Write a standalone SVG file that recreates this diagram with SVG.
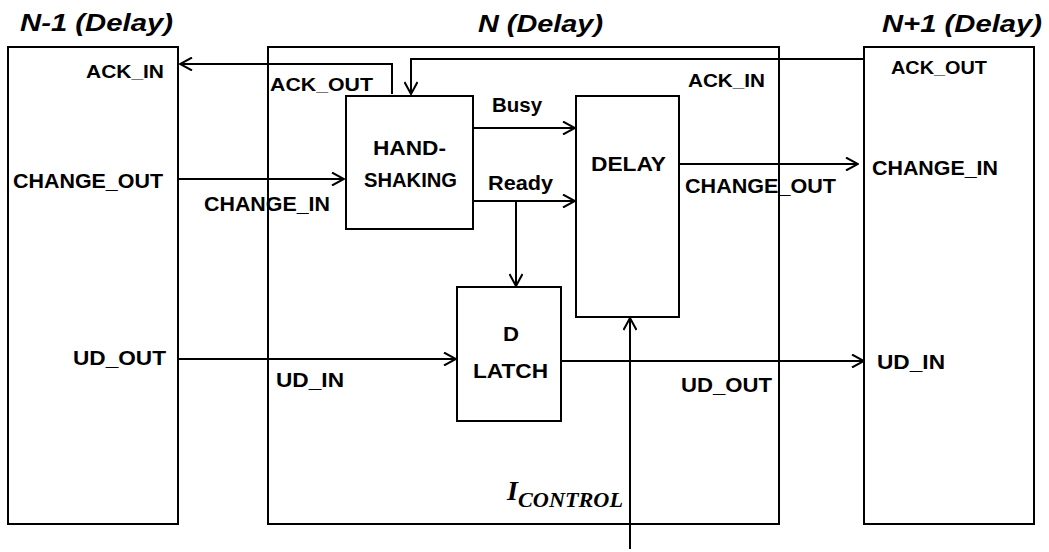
<svg xmlns="http://www.w3.org/2000/svg" width="1049" height="552" viewBox="0 0 1049 552">
<style>
.box{fill:none;stroke:#000;stroke-width:2}
.ln{fill:none;stroke:#000;stroke-width:2}
.arr{marker-end:url(#ah)}
.t{font-family:"Liberation Sans",Arial,sans-serif;font-weight:bold;font-size:20px;fill:#000}
.ttl{font-family:"Liberation Sans",Arial,sans-serif;font-weight:bold;font-style:italic;font-size:23px;fill:#000}
.m{font-family:"Liberation Serif","Times New Roman",serif;font-weight:bold;font-style:italic;fill:#000}
</style>
<defs>
<marker id="ah" markerUnits="userSpaceOnUse" markerWidth="14" markerHeight="14" viewBox="0 0 14 14" refX="13" refY="7" orient="auto">
<path d="M1,0.5 L13,7 L1,13.5" fill="none" stroke="#000" stroke-width="2"/>
</marker>
</defs>
<rect x="0" y="0" width="1049" height="552" fill="#fff"/>

<g id="node-n-minus-1">
<rect class="box" x="8" y="47" width="170" height="477"/>
<text class="ttl" x="20" y="31" textLength="153" lengthAdjust="spacingAndGlyphs">N-1 (Delay)</text>
<text class="t" x="86" y="78" textLength="78" lengthAdjust="spacingAndGlyphs" style="font-size:18px">ACK_IN</text>
<text class="t" x="13" y="188" textLength="150" lengthAdjust="spacingAndGlyphs">CHANGE_OUT</text>
<text class="t" x="73" y="365" textLength="93" lengthAdjust="spacingAndGlyphs">UD_OUT</text>
</g>

<g id="node-n">
<rect class="box" x="268" y="47" width="511" height="477"/>
<text class="ttl" x="478" y="32" textLength="125" lengthAdjust="spacingAndGlyphs">N (Delay)</text>
<text class="t" x="270" y="91" textLength="103" lengthAdjust="spacingAndGlyphs" style="font-size:19px">ACK_OUT</text>
<text class="t" x="688" y="87" textLength="77" lengthAdjust="spacingAndGlyphs" style="font-size:19px">ACK_IN</text>
<text class="t" x="204" y="211" textLength="126" lengthAdjust="spacingAndGlyphs">CHANGE_IN</text>
<text class="t" x="685" y="193" textLength="151" lengthAdjust="spacingAndGlyphs">CHANGE_OUT</text>
<text class="t" x="276" y="387" textLength="68" lengthAdjust="spacingAndGlyphs">UD_IN</text>
<text class="t" x="681" y="392" textLength="91" lengthAdjust="spacingAndGlyphs">UD_OUT</text>
<text class="t" x="492" y="112" textLength="50" lengthAdjust="spacingAndGlyphs">Busy</text>
<text class="t" x="488" y="190" textLength="65" lengthAdjust="spacingAndGlyphs">Ready</text>
<text class="m" x="507" y="500" style="font-size:28px">I</text>
<text class="m" x="518" y="507" textLength="105" lengthAdjust="spacingAndGlyphs" style="font-size:20px">CONTROL</text>
</g>

<g id="node-n-plus-1">
<rect class="box" x="864" y="47" width="170" height="477"/>
<text class="ttl" x="882" y="32" textLength="160" lengthAdjust="spacingAndGlyphs">N+1 (Delay)</text>
<text class="t" x="891" y="74" textLength="96" lengthAdjust="spacingAndGlyphs" style="font-size:19px">ACK_OUT</text>
<text class="t" x="872" y="175" textLength="126" lengthAdjust="spacingAndGlyphs">CHANGE_IN</text>
<text class="t" x="877" y="369" textLength="68" lengthAdjust="spacingAndGlyphs">UD_IN</text>
</g>

<g id="node-handshaking">
<rect class="box" x="346" y="96" width="127" height="133"/>
<text class="t" x="373" y="155" textLength="73" lengthAdjust="spacingAndGlyphs">HAND-</text>
<text class="t" x="364" y="187" textLength="93" lengthAdjust="spacingAndGlyphs">SHAKING</text>
</g>

<g id="node-delay">
<rect class="box" x="576" y="96" width="103" height="221"/>
<text class="t" x="591" y="171" textLength="75" lengthAdjust="spacingAndGlyphs">DELAY</text>
</g>

<g id="node-dlatch">
<rect class="box" x="457" y="287" width="104" height="134"/>
<text class="t" x="503" y="341" textLength="16" lengthAdjust="spacingAndGlyphs">D</text>
<text class="t" x="473" y="378" textLength="75" lengthAdjust="spacingAndGlyphs">LATCH</text>
</g>

<g id="connectors">
<path class="ln arr" d="M392,94 V64 H180"/>
<path class="ln arr" d="M864,59 H411 V94"/>
<path class="ln arr" d="M178,179 H344"/>
<path class="ln arr" d="M473,128 H575"/>
<path class="ln arr" d="M473,201 H575"/>
<path class="ln arr" d="M516,201 V286"/>
<path class="ln arr" d="M679,164 H858"/>
<path class="ln arr" d="M178,359 H456"/>
<path class="ln arr" d="M561,361 H864"/>
<path class="ln arr" d="M630,549 V318"/>
</g>
</svg>
